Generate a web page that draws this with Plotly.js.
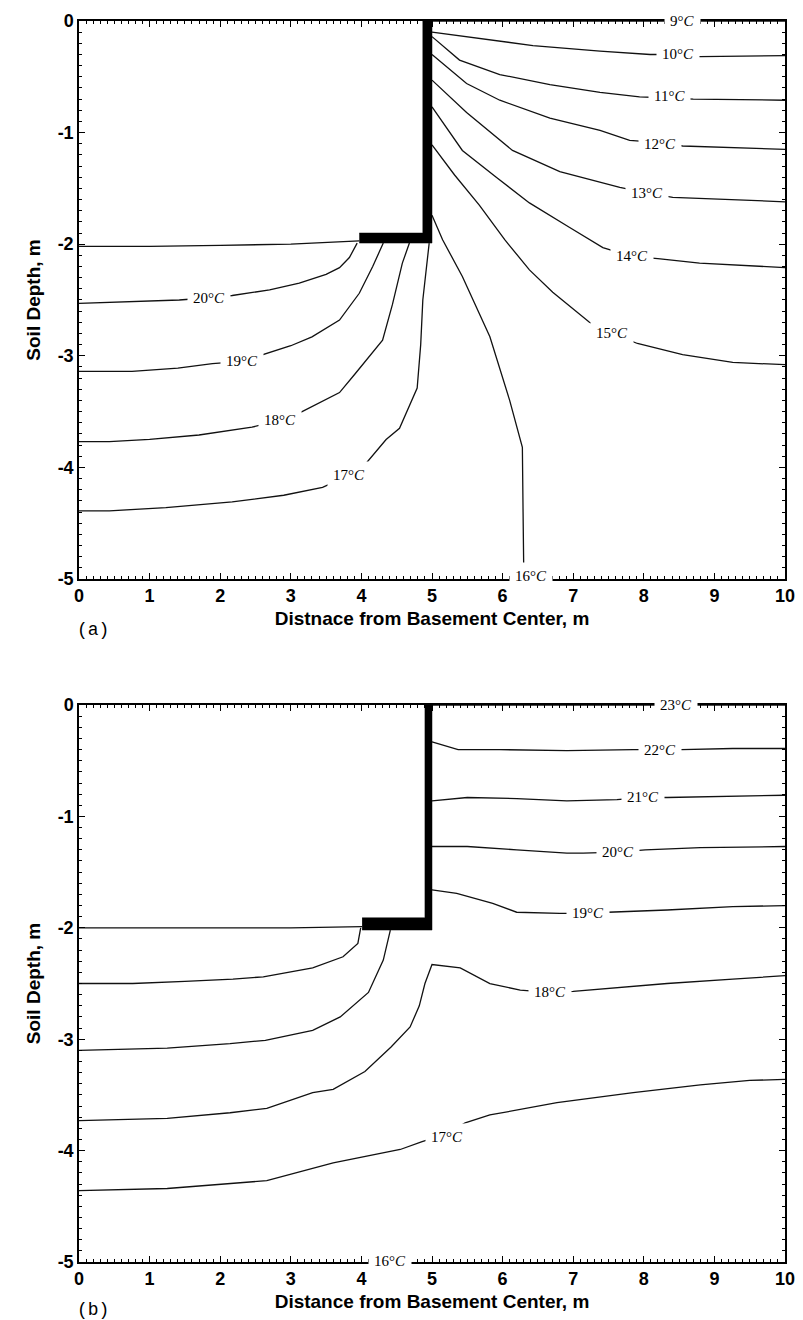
<!DOCTYPE html>
<html><head><meta charset="utf-8">
<script src="https://cdn.plot.ly/plotly-3.0.1.min.js"></script>
<style>html,body{margin:0;padding:0;background:#fff}#chart{width:803px;height:1320px}</style>
</head><body><div id="chart"></div>
<script>
// ---------- tick labels ----------
const xTickVals = [0,1,2,3,4,5,6,7,8,9,10];
const xTickText = ['0','1','2','3','4','5','6','7','8','9','10'];
const yTickVals = [0,-1,-2,-3,-4,-5];
const yTickText = ['0','-1','-2','-3','-4','-5'];
const minorStep = 0.1;

// ---------- panel (a): basement outline and floor ----------
const aBaseX = [3.97, 4.87, 4.87, 5.0, 5.0, 3.97];
const aBaseY = [-1.90, -1.90, 0, 0, -1.99, -1.99];
const aFloorX = [0, 1, 2, 3, 3.97];
const aFloorY = [-2.02, -2.02, -2.01, -2.0, -1.97];

// ---------- panel (a): isotherms ----------
const a9X  = [5.0, 10];
const a9Y  = [0, 0];
const a10X = [5.0, 5.49, 6.43, 7.38, 8.09, 8.48, 8.79, 10];
const a10Y = [-0.10, -0.14, -0.22, -0.27, -0.30, -0.30, -0.32, -0.31];
const a11X = [5.0, 5.39, 5.96, 6.67, 7.38, 7.94, 8.37, 8.70, 10];
const a11Y = [-0.14, -0.35, -0.48, -0.57, -0.64, -0.68, -0.69, -0.70, -0.71];
const a12X = [5.0, 5.49, 5.96, 6.67, 7.38, 7.80, 8.23, 8.55, 10];
const a12Y = [-0.30, -0.56, -0.71, -0.87, -0.98, -1.07, -1.09, -1.12, -1.15];
const a13X = [5.0, 5.49, 6.14, 6.81, 7.66, 8.04, 8.41, 10];
const a13Y = [-0.53, -0.82, -1.16, -1.35, -1.49, -1.54, -1.58, -1.62];
const a14X = [5.0, 5.43, 5.91, 6.38, 6.95, 7.42, 7.83, 8.20, 8.79, 10];
const a14Y = [-0.77, -1.16, -1.40, -1.63, -1.85, -2.03, -2.11, -2.13, -2.17, -2.21];
const a15X = [5.0, 5.32, 5.67, 6.03, 6.38, 6.71, 7.23, 7.55, 7.91, 8.55, 9.26, 10];
const a15Y = [-1.11, -1.38, -1.65, -1.96, -2.23, -2.43, -2.70, -2.80, -2.89, -2.99, -3.06, -3.08];
const a16X = [5.0, 5.15, 5.43, 5.82, 6.10, 6.28, 6.29, 6.30];
const a16Y = [-1.74, -1.96, -2.29, -2.83, -3.40, -3.82, -4.40, -4.95];
const a17X = [0, 0.43, 1.23, 2.17, 2.90, 3.45, 3.83, 4.07, 4.35, 4.54, 4.79, 4.84, 4.87, 4.93, 4.96];
const a17Y = [-4.39, -4.39, -4.36, -4.31, -4.25, -4.18, -4.07, -3.96, -3.75, -3.65, -3.29, -2.90, -2.50, -2.15, -1.99];
const a18X = [0, 0.43, 1.0, 1.70, 2.45, 2.84, 3.16, 3.69, 3.90, 4.30, 4.44, 4.58, 4.68];
const a18Y = [-3.77, -3.77, -3.75, -3.71, -3.64, -3.58, -3.50, -3.33, -3.17, -2.86, -2.54, -2.17, -1.99];
const a19X = [0, 0.75, 1.40, 1.89, 2.31, 2.70, 3.00, 3.30, 3.69, 3.97, 4.16, 4.31];
const a19Y = [-3.14, -3.14, -3.11, -3.07, -3.05, -2.97, -2.91, -2.83, -2.68, -2.44, -2.20, -1.99];
const a20X = [0, 0.43, 1.0, 1.42, 1.84, 2.17, 2.70, 3.12, 3.50, 3.69, 3.83, 3.94];
const a20Y = [-2.53, -2.52, -2.51, -2.50, -2.48, -2.46, -2.41, -2.35, -2.27, -2.21, -2.12, -1.99];

const aLabT = [9, 10, 11, 12, 13, 14, 15, 16, 17, 18, 19, 20];
const aLabX = [8.55, 8.48, 8.37, 8.23, 8.04, 7.83, 7.55, 6.40, 3.83, 2.84, 2.31, 1.84];
const aLabY = [0, -0.30, -0.67, -1.10, -1.54, -2.11, -2.80, -4.97, -4.07, -3.58, -3.05, -2.48];

// ---------- panel (b): basement outline and floor ----------
const bBaseX = [4.01, 4.90, 4.90, 5.0, 5.0, 4.01];
const bBaseY = [-1.91, -1.91, 0, 0, -2.02, -2.02];
const bFloorX = [0, 2, 3, 4.01];
const bFloorY = [-2.0, -2.0, -2.0, -1.99];

// ---------- panel (b): isotherms ----------
const b23X = [5.0, 10];
const b23Y = [0, 0];
const b22X = [5.0, 5.37, 5.96, 6.91, 7.85, 8.23, 8.53, 9.26, 10];
const b22Y = [-0.33, -0.40, -0.40, -0.41, -0.40, -0.40, -0.40, -0.39, -0.39];
const b21X = [5.0, 5.5, 6.2, 6.91, 7.62, 7.99, 8.33, 10];
const b21Y = [-0.86, -0.83, -0.84, -0.86, -0.85, -0.83, -0.83, -0.81];
const b20rX = [5.0, 5.5, 6.2, 6.91, 7.14, 7.63, 8.02, 8.80, 10];
const b20rY = [-1.27, -1.27, -1.30, -1.33, -1.33, -1.32, -1.30, -1.28, -1.27];
const b19rX = [5.0, 5.35, 5.86, 6.20, 6.81, 7.21, 7.49, 8.33, 9.26, 10];
const b19rY = [-1.66, -1.69, -1.78, -1.86, -1.87, -1.87, -1.86, -1.84, -1.81, -1.80];
const b20X = [0, 0.76, 1.5, 2.18, 2.61, 3.31, 3.74, 3.95, 3.99];
const b20Y = [-2.50, -2.50, -2.48, -2.46, -2.44, -2.36, -2.26, -2.14, -2.0];
const b19X = [0, 1.25, 2.14, 2.64, 3.31, 3.70, 4.10, 4.31, 4.41];
const b19Y = [-3.10, -3.08, -3.04, -3.01, -2.92, -2.80, -2.58, -2.29, -2.02];
const b18X = [0, 1.25, 2.14, 2.66, 3.31, 3.60, 4.05, 4.42, 4.69, 4.82, 4.90, 5.0, 5.40, 5.82, 6.25, 6.67, 7.0, 8.33, 9.26, 10];
const b18Y = [-3.73, -3.71, -3.66, -3.62, -3.48, -3.45, -3.29, -3.07, -2.89, -2.70, -2.50, -2.33, -2.36, -2.50, -2.56, -2.58, -2.57, -2.50, -2.46, -2.43];
const b17X = [0, 1.25, 2.66, 3.60, 4.55, 4.86, 5.21, 5.47, 5.82, 6.77, 7.85, 8.80, 9.50, 10];
const b17Y = [-4.36, -4.34, -4.27, -4.11, -3.99, -3.92, -3.85, -3.75, -3.68, -3.57, -3.48, -3.41, -3.37, -3.36];

const bLabT = [23, 22, 21, 20, 19, 18, 17, 16];
const bLabX = [8.46, 8.23, 7.99, 7.63, 7.21, 6.67, 5.21, 4.40];
const bLabY = [0, -0.40, -0.83, -1.32, -1.87, -2.58, -3.88, -4.99];

// ---------- traces ----------
const traces = [];
function iso(x, y, xa, ya) {
  traces.push({type:'scatter', mode:'lines', x:x, y:y, xaxis:xa, yaxis:ya,
    line:{color:'#111', width:1.3}, hoverinfo:'skip', showlegend:false});
}
function base(x, y, xa, ya) {
  traces.push({type:'scatter', mode:'lines', x:x, y:y, xaxis:xa, yaxis:ya,
    fill:'toself', fillcolor:'#000', line:{color:'#000', width:0.5}, hoverinfo:'skip', showlegend:false});
}
[[aFloorX,aFloorY],[a9X,a9Y],[a10X,a10Y],[a11X,a11Y],[a12X,a12Y],[a13X,a13Y],[a14X,a14Y],
 [a15X,a15Y],[a16X,a16Y],[a17X,a17Y],[a18X,a18Y],[a19X,a19Y],[a20X,a20Y]]
 .forEach(p => iso(p[0], p[1], 'x', 'y'));
base(aBaseX, aBaseY, 'x', 'y');
[[bFloorX,bFloorY],[b23X,b23Y],[b22X,b22Y],[b21X,b21Y],[b20rX,b20rY],[b19rX,b19rY],
 [b20X,b20Y],[b19X,b19Y],[b18X,b18Y],[b17X,b17Y]]
 .forEach(p => iso(p[0], p[1], 'x2', 'y2'));
base(bBaseX, bBaseY, 'x2', 'y2');

// ---------- annotations (isotherm labels cut the lines with a white box) ----------
const labelFont = {family:'Liberation Serif, Times New Roman, serif', size:15, color:'#000'};
const annotations = [];
aLabT.forEach((t, i) => annotations.push({xref:'x', yref:'y', x:aLabX[i], y:aLabY[i],
  text: t + '°<i>C</i>', showarrow:false, font:labelFont, bgcolor:'#fff', borderpad:5}));
bLabT.forEach((t, i) => annotations.push({xref:'x2', yref:'y2', x:bLabX[i], y:bLabY[i],
  text: t + '°<i>C</i>', showarrow:false, font:labelFont, bgcolor:'#fff', borderpad:5}));
const panelFont = {family:'Liberation Mono, Courier New, monospace', size:18, color:'#000'};
annotations.push({xref:'paper', yref:'paper', x:0.02, y:0.509, xanchor:'center', yanchor:'middle', text:'(a)', showarrow:false, font:panelFont});
annotations.push({xref:'paper', yref:'paper', x:0.02, y:-0.0387, xanchor:'center', yanchor:'middle', text:'(b)', showarrow:false, font:panelFont});

// ---------- axes ----------
const tickFont = {family:'Liberation Sans, Arial, sans-serif', size:18, color:'#000', weight:'bold'};
const titleFont = {family:'Liberation Sans, Arial, sans-serif', size:19, color:'#000', weight:'bold'};
function xAxis(anchor, title) {
  return {domain:[0,1], anchor:anchor, range:[0,10], tickmode:'array', tickvals:xTickVals, ticktext:xTickText,
    ticks:'inside', ticklen:6, tickwidth:1.2, tickcolor:'#000', mirror:'ticks', showline:true, linewidth:1.5, linecolor:'#000',
    minor:{dtick:minorStep, ticks:'inside', ticklen:3},
    showgrid:false, zeroline:false, tickfont:tickFont, automargin:false,
    title:{text:title, font:titleFont, standoff:6}};
}
function yAxis(anchor, domain) {
  return {domain:domain, anchor:anchor, range:[-5,0], tickmode:'array', tickvals:yTickVals, ticktext:yTickText,
    ticks:'inside', ticklen:6, tickwidth:1.2, tickcolor:'#000', mirror:'ticks', showline:true, linewidth:1.5, linecolor:'#000',
    minor:{dtick:minorStep, ticks:'inside', ticklen:3},
    showgrid:false, zeroline:false, tickfont:tickFont, automargin:false,
    title:{text:'Soil Depth, m', font:titleFont, standoff:12}};
}
const layout = {
  width:803, height:1320,
  margin:{l:79, r:18, t:21, b:58}, showlegend:false,
  xaxis: xAxis('y', 'Distnace from Basement Center, m'),
  yaxis: yAxis('x', [0.5504, 1]),
  xaxis2: xAxis('y2', 'Distance from Basement Center, m'),
  yaxis2: yAxis('x2', [0, 0.4488]),
  annotations: annotations
};
Plotly.newPlot('chart', traces, layout, {displayModeBar:false});
</script></body></html>
